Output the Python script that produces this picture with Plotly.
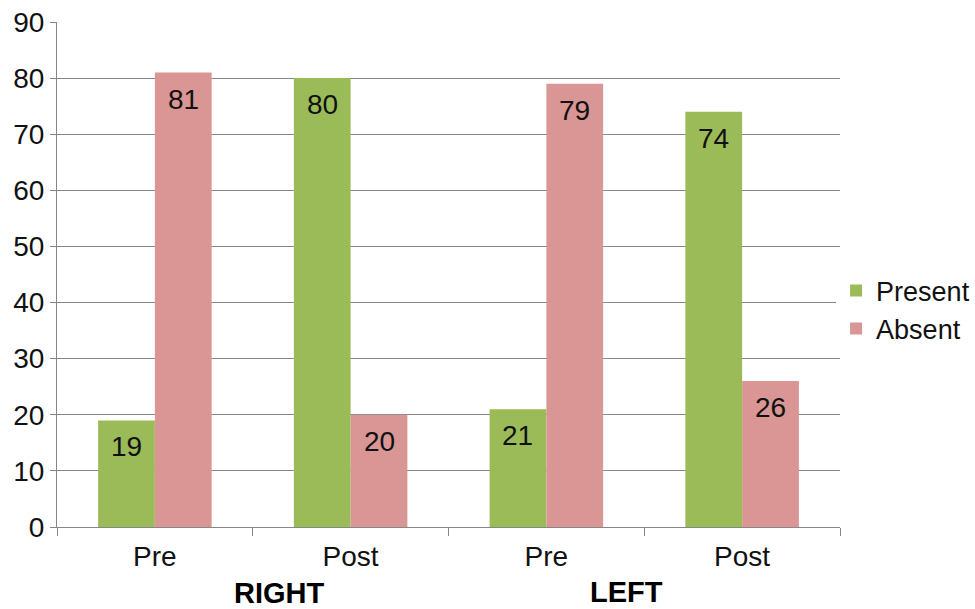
import plotly.graph_objects as go

categories = ["Pre", "Post", "Pre", "Post"]
groups = ["RIGHT", "LEFT"]
present = [19, 80, 21, 74]
absent = [81, 20, 79, 26]

x_pos = list(range(len(categories)))
green = "#9BBB59"
pink = "#D99694"
font_family = "Liberation Sans, Arial, sans-serif"
fs = 28

fig = go.Figure()
fig.add_trace(go.Bar(x=x_pos, y=present, name="Present", marker=dict(color=green, line=dict(width=0))))
fig.add_trace(go.Bar(x=x_pos, y=absent, name="Absent", marker=dict(color=pink, line=dict(width=0))))

bargap = 0.42
bw = (1 - bargap) / 2
annotations = []
for i, (p, a) in enumerate(zip(present, absent)):
    annotations.append(dict(x=i - bw / 2, y=p, xref="x", yref="y", text=str(p), showarrow=False,
                            yanchor="top", yshift=-9, font=dict(size=fs, color="#111", family=font_family)))
    annotations.append(dict(x=i + bw / 2, y=a, xref="x", yref="y", text=str(a), showarrow=False,
                            yanchor="top", yshift=-9, font=dict(size=fs, color="#111", family=font_family)))

group_x = [0.635, 2.41]
group_shift = [-66, -65]
for g, gx, gs in zip(groups, group_x, group_shift):
    annotations.append(dict(x=gx, y=0, xref="x", yref="paper",
                            yshift=gs, text="<b>%s</b>" % g, showarrow=False,
                            yanchor="middle", font=dict(size=29, color="#000", family=font_family)))

fig.update_layout(
    width=975, height=609,
    margin=dict(l=57, r=135, t=22, b=82, autoexpand=False),
    paper_bgcolor="white", plot_bgcolor="white",
    barmode="group", bargap=bargap, bargroupgap=0,
    font=dict(family=font_family, size=fs, color="#111"),
    showlegend=True,
    legend=dict(x=0.995, xanchor="left", y=0.43, yanchor="middle",
                font=dict(size=27, family=font_family, color="#111"),
                itemwidth=30, tracegroupgap=0),
    annotations=annotations,
    xaxis=dict(range=[-0.5, 3.5], tickvals=x_pos, ticktext=categories, ticks="",
               ticklabelstandoff=4,
               showgrid=False, zeroline=False, showline=True, linecolor="#868686", linewidth=1,
               tickfont=dict(size=fs, family=font_family, color="#111"),
               minor=dict(tickvals=[-0.5, 0.5, 1.5, 2.5, 3.5], ticks="outside", ticklen=8,
                          tickcolor="#868686", showgrid=False)),
    yaxis=dict(range=[0, 90], dtick=10, showgrid=True, gridcolor="#868686", gridwidth=1,
               zeroline=False, showline=True, linecolor="#868686", linewidth=1,
               ticks="outside", ticklen=6, tickcolor="#868686",
               tickfont=dict(size=fs, family=font_family, color="#111")),
)

fig.write_html("out.html")
